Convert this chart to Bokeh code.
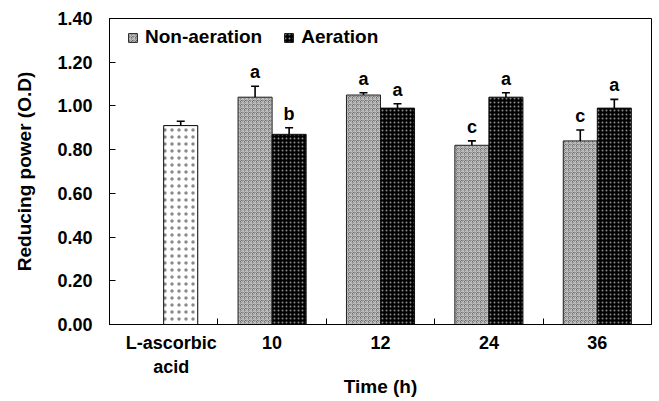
from bokeh.plotting import figure
from bokeh.models import (ColumnDataSource, FixedTicker, Legend, LegendItem,
                          NumeralTickFormatter)
from bokeh.core.properties import value
from bokeh.embed import file_html
from bokeh.resources import INLINE

# ---- data ----
categories = ["L-ascorbic\nacid", "10", "12", "24", "36"]
ref_value = [0.91]
ref_err = [0.02]
non_aeration = [None, 1.04, 1.05, 0.82, 0.84]
non_aeration_err = [None, 0.05, 0.01, 0.02, 0.05]
non_aeration_letters = [None, "a", "a", "c", "c"]
aeration = [None, 0.87, 0.99, 1.04, 0.99]
aeration_err = [None, 0.03, 0.02, 0.02, 0.04]
aeration_letters = [None, "b", "a", "a", "a"]
y_ticks = [0.0, 0.2, 0.4, 0.6, 0.8, 1.0, 1.2, 1.4]

FONT = "Liberation Sans"
BW = 0.314
OFF = BW / 2

p = figure(frame_width=542, frame_height=306, output_backend="svg",
           toolbar_location=None, x_range=(-0.5, 4.5), y_range=(0, 1.4),
           min_border_left=109, min_border_top=18, min_border_right=8,
           min_border_bottom=0)
p.xgrid.visible = False
p.ygrid.visible = False
p.outline_line_color = "black"
p.outline_line_width = 1
p.background_fill_color = "white"
p.border_fill_color = "white"

idx = [i for i in range(len(categories)) if non_aeration[i] is not None]

# reference bar (L-ascorbic acid)
src_ref = ColumnDataSource(dict(x=[0 + OFF], top=ref_value,
                                err=[ref_value[0] + ref_err[0]]))
r_ref = p.vbar(x="x", top="top", width=BW, source=src_ref, fill_color="white",
               line_color="black", line_width=1, hatch_pattern="dot",
               hatch_color="#8a8a8a", hatch_scale=7, hatch_weight=0.3)

src_na = ColumnDataSource(dict(
    x=[i - OFF for i in idx], top=[non_aeration[i] for i in idx],
    err=[non_aeration[i] + non_aeration_err[i] for i in idx],
    lab=[non_aeration_letters[i] for i in idx]))
src_a = ColumnDataSource(dict(
    x=[i + OFF for i in idx], top=[aeration[i] for i in idx],
    err=[aeration[i] + aeration_err[i] for i in idx],
    lab=[aeration_letters[i] for i in idx]))

r_na = p.vbar(x="x", top="top", width=BW, source=src_na, fill_color="#6a6a6a",
              line_color="#222222", line_width=1, hatch_pattern="criss_cross",
              hatch_color="#c4c4c4", hatch_scale=4, hatch_weight=1)
r_a = p.vbar(x="x", top="top", width=BW, source=src_a, fill_color="#000000",
             line_color="#111111", line_width=1, hatch_pattern="dot",
             hatch_color="#8c8c8c", hatch_scale=4, hatch_weight=0.8)

for s in (src_ref, src_na, src_a):
    p.segment(x0="x", y0="top", x1="x", y1="err", source=s,
              line_color="black", line_width=1.6)
    p.scatter(x="x", y="err", source=s, marker="dash", size=8,
              line_color="black", line_width=1.6)

for s in (src_na, src_a):
    p.text(x="x", y="err", text="lab", source=s, text_align="center",
           text_baseline="bottom", y_offset=-4,
           text_font=value(FONT), text_font_style="bold",
           text_font_size="18px", text_color="black")

# axes
x_ticks = [0.07, 1, 2, 3, 4]
p.xaxis.ticker = FixedTicker(ticks=x_ticks,
                             minor_ticks=[0.5, 1.5, 2.5, 3.5])
p.xaxis.major_label_overrides = {t: c for t, c in zip(x_ticks, categories)}
p.xaxis.major_tick_in = 0
p.xaxis.major_tick_out = 0
p.xaxis.minor_tick_in = 6
p.xaxis.minor_tick_out = 0
p.xaxis.minor_tick_line_color = "black"
p.xaxis.major_label_standoff = 8
p.xaxis.axis_label = "Time (h)"
p.xaxis.axis_label_standoff = -4

p.yaxis.ticker = FixedTicker(ticks=y_ticks, minor_ticks=[])
p.yaxis.formatter = NumeralTickFormatter(format="0.00")
p.yaxis.major_tick_in = 6
p.yaxis.major_tick_out = 0
p.yaxis.minor_tick_in = 0
p.yaxis.minor_tick_out = 0
p.yaxis.major_label_standoff = 17
p.yaxis.axis_label = "Reducing power (O.D)"
p.yaxis.axis_label_standoff = 19

for ax in (p.xaxis[0], p.yaxis[0]):
    ax.axis_line_color = "black"
    ax.major_tick_line_color = "black"
    ax.major_label_text_font = FONT
    ax.major_label_text_font_style = "bold"
    ax.major_label_text_font_size = "18px"
    ax.major_label_text_color = "black"
    ax.axis_label_text_font = FONT
    ax.axis_label_text_font_style = "bold"
    ax.axis_label_text_font_size = "19px"
    ax.axis_label_text_color = "black"

legend = Legend(items=[LegendItem(label="Non-aeration", renderers=[r_na]),
                       LegendItem(label="Aeration", renderers=[r_a])],
                orientation="horizontal", location=(18, 276),
                padding=7, margin=0, spacing=21, label_standoff=7,
                glyph_width=11, glyph_height=11,
                border_line_color=None, background_fill_alpha=0,
                label_text_font=FONT, label_text_font_style="bold",
                label_text_font_size="19px", label_text_color="black")
p.add_layout(legend)

open("out.html", "w").write(file_html(p, INLINE))
